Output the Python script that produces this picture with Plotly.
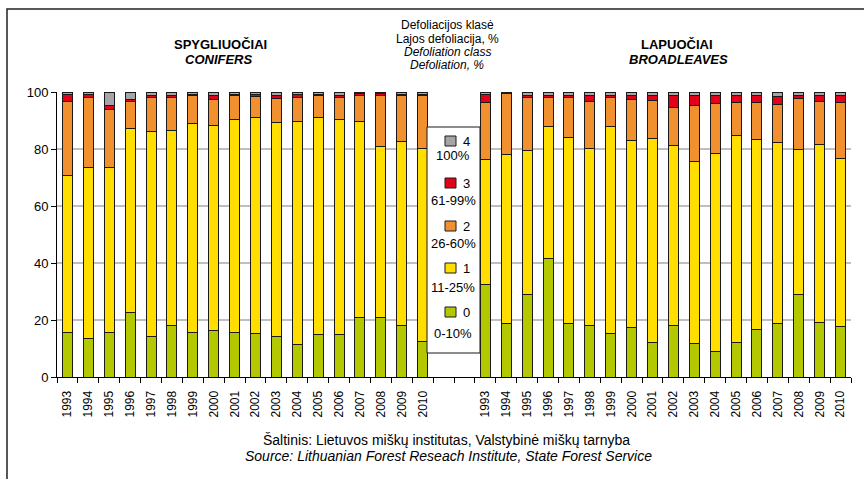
import plotly.graph_objects as go

years = [str(y) for y in range(1993, 2011)]

# Conifers (SPYGLIUOČIAI), share of trees per defoliation class, %
con0 = [15.5, 13.5, 15.5, 22.6, 14.3, 18.2, 15.5, 16.3, 15.6, 15.4, 14.1, 11.5, 15.0, 14.8, 20.9, 20.9, 18.2, 12.5]
con1 = [55.2, 60.1, 58.0, 64.5, 71.9, 68.2, 73.4, 71.9, 74.7, 75.6, 75.3, 78.3, 75.9, 75.7, 68.9, 60.0, 64.4, 67.7]
con2 = [25.8, 24.6, 20.5, 9.4, 11.7, 11.8, 9.8, 9.3, 8.4, 7.4, 8.4, 8.4, 7.9, 7.7, 8.8, 18.0, 16.1, 18.5]
con3 = [2.8, 0.9, 1.4, 1.0, 0.7, 0.6, 0.5, 1.4, 0.5, 0.7, 1.0, 0.9, 0.3, 0.7, 1.0, 0.7, 0.5, 0.5]
con4 = [0.7, 0.9, 4.6, 2.5, 1.4, 1.2, 0.8, 1.1, 0.8, 0.9, 1.2, 0.9, 0.9, 1.1, 0.4, 0.4, 0.8, 0.8]

# Broadleaves (LAPUOČIAI)
bro0 = [32.6, 18.8, 29.1, 41.6, 18.8, 18.2, 15.2, 17.5, 12.2, 18.1, 11.7, 8.8, 12.1, 16.6, 18.6, 28.8, 19.2, 17.8]
bro1 = [43.6, 59.4, 50.3, 46.2, 65.3, 62.1, 72.8, 65.5, 71.6, 63.0, 63.8, 69.5, 72.7, 66.9, 63.8, 50.9, 62.4, 58.8]
bro2 = [20.2, 21.4, 18.5, 10.3, 14.1, 16.4, 10.0, 14.2, 13.3, 13.4, 19.8, 17.7, 11.6, 12.9, 13.3, 18.1, 15.0, 19.8]
bro3 = [2.8, 0.1, 1.0, 0.6, 0.7, 2.2, 0.9, 1.7, 1.7, 4.4, 3.4, 2.9, 2.5, 2.5, 2.8, 1.1, 2.3, 2.3]
bro4 = [0.8, 0.3, 1.1, 1.3, 1.1, 1.1, 1.1, 1.1, 1.2, 1.1, 1.3, 1.1, 1.1, 1.1, 1.5, 1.1, 1.1, 1.3]

classes = ["0", "1", "2", "3", "4"]
class_ranges = ["0-10%", "11-25%", "26-60%", "61-99%", "100%"]
colors = ["#B4C800", "#FFDE00", "#F0902E", "#E2001A", "#A5A5A5"]

con = [con0, con1, con2, con3, con4]
bro = [bro0, bro1, bro2, bro3, bro4]

n = len(years)
gap = 2
x_con = list(range(n))
x_bro = [n + gap + i for i in range(n)]
x_all = x_con + x_bro
nslots = 2 * n + gap

FONT = "Liberation Sans, Arial, sans-serif"

fig = go.Figure()
for k in range(5):
    fig.add_trace(go.Bar(
        x=x_all, y=con[k] + bro[k], name=classes[k],
        marker=dict(color=colors[k], line=dict(color="#1a1a1a", width=1)),
        width=0.48, showlegend=False,
    ))

# pixel -> paper helpers (plot area 57..851 x, 92..377 y)
L, R, T, B = 57, 851, 92, 377
def px(x):
    return (x - L) / (R - L)
def py(y):
    return (B - y) / (B - T)

shapes = []
# outer frame (top and left lines)
shapes.append(dict(type="path", xref="paper", yref="paper",
                   path=f"M {px(7)} {py(482)} L {px(7)} {py(9)} L {px(866)} {py(9)}",
                   line=dict(color="#222222", width=1.5)))
# legend box
shapes.append(dict(type="rect", xref="paper", yref="paper",
                   x0=px(427), x1=px(480), y0=py(353), y1=py(127),
                   fillcolor="white", line=dict(color="#1a1a1a", width=1), layer="above"))

annotations = []
legend_rows = [(141, 155), (183, 200), (226, 243), (268, 287), (312, 333)]
for i, k in enumerate([4, 3, 2, 1, 0]):
    ys, yt = legend_rows[i]
    shapes.append(dict(type="rect", xref="paper", yref="paper",
                       x0=px(445), x1=px(456), y0=py(ys + 5), y1=py(ys - 5),
                       fillcolor=colors[k], line=dict(color="#1a1a1a", width=1), layer="above"))
    annotations.append(dict(x=px(461), y=py(ys), xref="paper", yref="paper",
                            text=classes[k], showarrow=False, xanchor="left", yanchor="middle",
                            font=dict(size=13, color="#000", family=FONT)))
    annotations.append(dict(x=px(453), y=py(yt), xref="paper", yref="paper",
                            text=class_ranges[k], showarrow=False, xanchor="center", yanchor="middle",
                            font=dict(size=13, color="#000", family=FONT)))

def txt(x, y, s, size=12):
    annotations.append(dict(x=px(x), y=py(y), xref="paper", yref="paper", text=s,
                            showarrow=False, xanchor="center", yanchor="middle", borderpad=0,
                            font=dict(size=size, color="#000", family=FONT)))

txt(220, 45, "<b>SPYGLIUOČIAI</b>", 13)
txt(219, 59.5, "<b><i>CONIFERS</i></b>", 13)
txt(677, 45, "<b>LAPUOČIAI</b>", 13)
txt(678, 59.5, "<b><i>BROADLEAVES</i></b>", 13)
txt(447, 25, "Defoliacijos klasė")
txt(447, 38.5, "Lajos defoliacija, %")
txt(447, 52, "<i>Defoliation class</i>")
txt(447, 65.5, "<i>Defoliation, %</i>")
txt(446, 440, "Šaltinis: Lietuvos miškų institutas, Valstybinė miškų tarnyba", 14)
txt(448, 456, "<i>Source: Lithuanian Forest Reseach Institute, State Forest Service</i>", 14)

fig.update_layout(
    barmode="stack",
    width=864, height=479,
    margin=dict(l=L, r=864 - R, t=T, b=479 - B, pad=0),
    paper_bgcolor="white", plot_bgcolor="white",
    font=dict(family=FONT, size=12, color="#000"),
    shapes=shapes, annotations=annotations,
    bargap=0.5,
)
fig.update_xaxes(
    range=[-0.5, nslots - 0.5],
    tickmode="array", tickvals=x_all, ticktext=years + years,
    tickangle=-90, ticks="", ticklabelstandoff=8,
    tickfont=dict(size=12, family=FONT, color="#000"),
    showline=True, linecolor="#000", linewidth=1,
    showgrid=False, zeroline=False,
    minor=dict(tickmode="array", tickvals=[i - 0.5 for i in range(nslots + 1)],
               ticks="outside", ticklen=5, tickcolor="#000", tickwidth=1, showgrid=False),
)
fig.update_yaxes(
    range=[0, 100], tickmode="linear", tick0=0, dtick=20,
    ticks="outside", ticklen=5, tickcolor="#000",
    tickfont=dict(size=13, family=FONT, color="#000"),
    showline=True, linecolor="#000", linewidth=1,
    showgrid=True, gridcolor="#BFBFBF", gridwidth=1.5, zeroline=False,
)

fig.write_html("out.html", config={"displayModeBar": False},
               post_script="document.body.style.margin='0';document.body.style.overflow='hidden';")
